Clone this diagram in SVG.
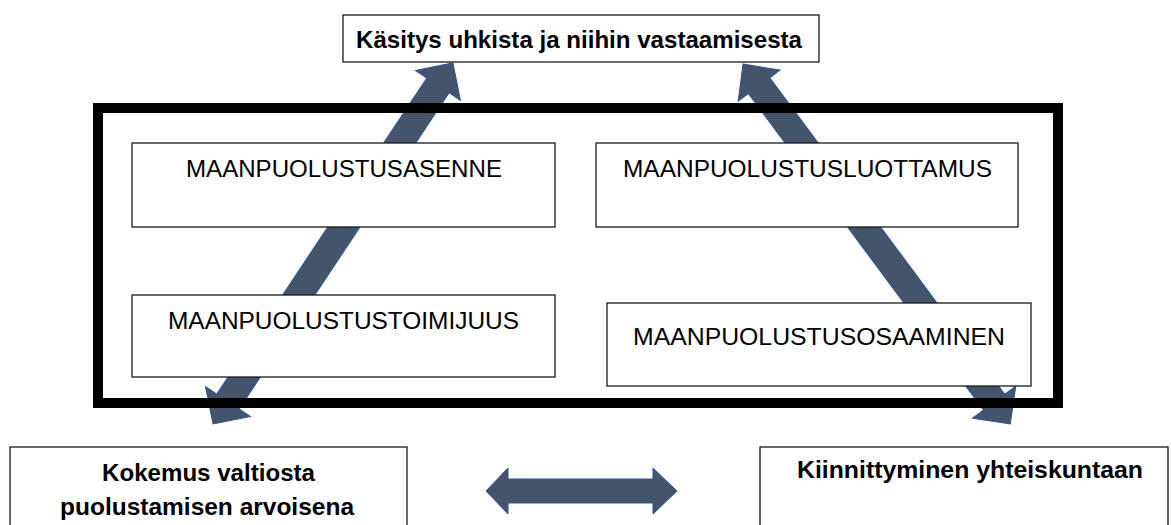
<svg xmlns="http://www.w3.org/2000/svg" width="1171" height="525" viewBox="0 0 1171 525">
<style>
.box{fill:#ffffff;stroke:#1a1a1a;stroke-width:1.3}
.arrow{fill:#44546A;stroke:#2F5597;stroke-width:1}
.t{font-family:"Liberation Sans",Arial,sans-serif;font-size:24px;fill:#000;text-anchor:middle}
.b{font-weight:bold}
</style>
<rect width="1171" height="525" fill="#ffffff"/>
<g id="connectors">
<path class="arrow" transform="translate(213,424) rotate(-56.4)" d="M0,0 L27,-27 L27,-13.4 L406.5,-13.4 L406.5,-27 L433.5,0 L406.5,27 L406.5,13.4 L27,13.4 L27,27 Z"/>
<path class="arrow" transform="translate(743,64) rotate(53.4)" d="M0,0 L27,-26 L27,-13.3 L421.2,-13.3 L421.2,-27 L448.2,0 L421.2,27 L421.2,13.3 L27,13.3 L27,26 Z"/>
<path class="arrow" d="M486,491 L508,468 L508,479 L653,479 L653,468 L677,491 L653,514 L653,503 L508,503 L508,514 Z"/>
</g>
<g id="frame">
<rect x="98" y="108" width="960" height="295" fill="none" stroke="#000" stroke-width="10"/>
</g>
<g id="n-title">
<rect class="box" x="343" y="15" width="476" height="47"/>
<text class="t b" x="579" y="48" textLength="446" lengthAdjust="spacingAndGlyphs">Käsitys uhkista ja niihin vastaamisesta</text>
</g>
<g id="n-asenne">
<rect class="box" x="132" y="143" width="423" height="84"/>
<text class="t" x="344" y="177" textLength="316" lengthAdjust="spacingAndGlyphs">MAANPUOLUSTUSASENNE</text>
</g>
<g id="n-luottamus">
<rect class="box" x="596" y="143" width="422" height="84"/>
<text class="t" x="807.5" y="177" textLength="369" lengthAdjust="spacingAndGlyphs">MAANPUOLUSTUSLUOTTAMUS</text>
</g>
<g id="n-toimijuus">
<rect class="box" x="132" y="295" width="423" height="82"/>
<text class="t" x="343.5" y="329" textLength="351" lengthAdjust="spacingAndGlyphs">MAANPUOLUSTUSTOIMIJUUS</text>
</g>
<g id="n-osaaminen">
<rect class="box" x="607" y="303" width="424" height="83"/>
<text class="t" x="819" y="345" textLength="372" lengthAdjust="spacingAndGlyphs">MAANPUOLUSTUSOSAAMINEN</text>
</g>
<g id="n-kokemus">
<rect class="box" x="10" y="447" width="397" height="90"/>
<text class="t b" x="208.5" y="481" textLength="213" lengthAdjust="spacingAndGlyphs">Kokemus valtiosta</text>
<text class="t b" x="207" y="515" textLength="294" lengthAdjust="spacingAndGlyphs">puolustamisen arvoisena</text>
</g>
<g id="n-kiinnittyminen">
<rect class="box" x="760" y="447" width="408" height="90"/>
<text class="t b" x="970" y="478" textLength="346" lengthAdjust="spacingAndGlyphs">Kiinnittyminen yhteiskuntaan</text>
</g>
</svg>
